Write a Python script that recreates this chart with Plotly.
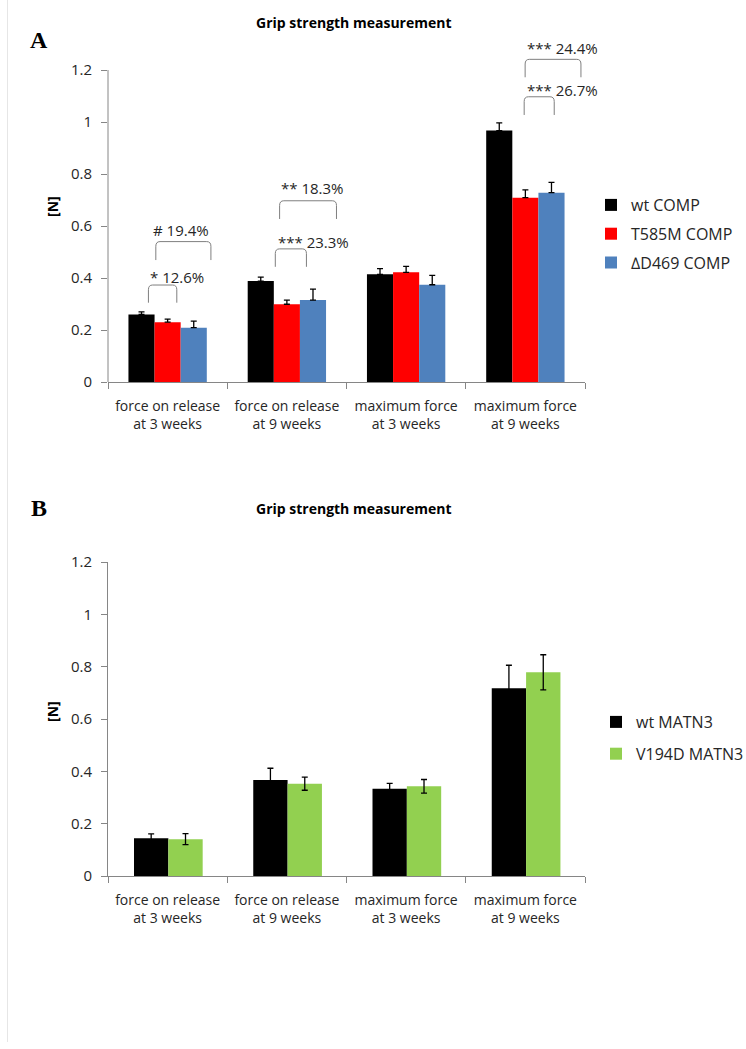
import plotly.graph_objects as go
import numpy as np

# ---------------- data ----------------
categories = ["force on release<br>at 3 weeks", "force on release<br>at 9 weeks",
              "maximum force<br>at 3 weeks", "maximum force<br>at 9 weeks"]

a_names = ["wt COMP", "T585M COMP", "\u2206D469 COMP"]
a_wt = [0.260, 0.388, 0.414, 0.967]
a_wt_err = [0.010, 0.015, 0.022, 0.030]
a_t585m = [0.230, 0.299, 0.422, 0.709]
a_t585m_err = [0.012, 0.016, 0.023, 0.030]
a_d469 = [0.209, 0.315, 0.374, 0.728]
a_d469_err = [0.025, 0.042, 0.036, 0.040]

b_names = ["wt MATN3", "V194D MATN3"]
b_wt = [0.144, 0.367, 0.334, 0.718]
b_wt_err = [0.017, 0.045, 0.020, 0.088]
b_v194d = [0.141, 0.353, 0.343, 0.779]
b_v194d_err = [0.021, 0.025, 0.026, 0.067]

y_ticks = [0, 0.2, 0.4, 0.6, 0.8, 1, 1.2]
y_tick_labels = ["0", "0.2", "0.4", "0.6", "0.8", "1", "1.2"]

# significance brackets (panel A): category index, left/right offset, foot, top, label, label offset, label y
brackets = [
    (0, -0.161, 0.077, 0.305, 0.373, "* 12.6%", 0.08, 0.405),
    (0, -0.099, 0.363, 0.469, 0.540, "# 19.4%", 0.113, 0.585),
    (1, -0.097, 0.164, 0.443, 0.512, "*** 23.3%", 0.22, 0.540),
    (1, -0.061, 0.416, 0.627, 0.697, "** 18.3%", 0.215, 0.745),
    (3, -0.010, 0.242, 1.027, 1.097, "*** 26.7%", 0.31, 1.123),
    (3, -0.002, 0.466, 1.172, 1.241, "*** 24.4%", 0.315, 1.283),
]

# ---------------- styling ----------------
W, H = 746, 1049
FONT = "Open Sans"
TXT = "#262626"
AX = "#868686"
BLACK, RED, BLUE, GREEN = "#000000", "#FF0000", "#4F81BD", "#92D050"

x_idx = np.arange(len(categories))
bounds = np.arange(len(categories) + 1) - 0.5


def px_x(p):
    return p / W


def px_y(p):
    return 1 - p / H


fig = go.Figure()

# Panel A
for name, vals, errs, col in [(a_names[0], a_wt, a_wt_err, BLACK),
                              (a_names[1], a_t585m, a_t585m_err, RED),
                              (a_names[2], a_d469, a_d469_err, BLUE)]:
    fig.add_trace(go.Bar(
        x=x_idx, y=vals, name=name, marker=dict(color=col, line=dict(width=0)),
        error_y=dict(type="data", array=errs, arrayminus=[0] * len(errs), symmetric=False,
                     color="black", thickness=1.3, width=3),
        xaxis="x", yaxis="y", legend="legend", legendgroup=name,
    ))

# Panel B
bw = 0.288
for i, (name, vals, errs, col) in enumerate([(b_names[0], b_wt, b_wt_err, BLACK),
                                             (b_names[1], b_v194d, b_v194d_err, GREEN)]):
    fig.add_trace(go.Bar(
        x=x_idx, y=vals, name=name, marker=dict(color=col, line=dict(width=0)),
        width=bw, offset=(i - 1) * bw + 0.006,
        error_y=dict(type="data", array=errs, color="black", thickness=1.3, width=3),
        xaxis="x2", yaxis="y2", legend="legend2", legendgroup=name,
    ))

xdom = [px_x(108), px_x(585)]
common_x = dict(
    range=[-0.5, len(categories) - 0.5], tickmode="array", tickvals=x_idx, ticktext=categories,
    ticks="", showline=True, linecolor=AX, linewidth=1, showgrid=False, zeroline=False,
    tickfont=dict(family=FONT, size=14, color=TXT), ticklabelstandoff=11,
    minor=dict(tickmode="array", tickvals=bounds, ticks="outside", ticklen=6, tickcolor=AX, tickwidth=1,
               showgrid=False),
    domain=xdom, fixedrange=True, automargin=False,
)
common_y = dict(
    tickmode="array", tickvals=y_ticks, ticktext=y_tick_labels, ticks="outside", ticklen=6,
    tickcolor=AX, tickwidth=1, showgrid=False, zeroline=False, ticklabelstandoff=6,
    tickfont=dict(family=FONT, size=15, color=TXT), fixedrange=True, automargin=False,
)

shapes = []
annotations = []

# y-axis line for panel A (only up to 1.2)
shapes.append(dict(type="line", xref="x domain", yref="y", x0=0, x1=0, y0=0, y1=max(y_ticks),
                   line=dict(color=AX, width=1)))

# brackets
rx, ry = 0.035, 0.018
for cat, l, r, yb, yt, label, tx, ty in brackets:
    x0, x1 = x_idx[cat] + l, x_idx[cat] + r
    path = (f"M {x0},{yb} L {x0},{yt - ry} Q {x0},{yt} {x0 + rx},{yt} "
            f"L {x1 - rx},{yt} Q {x1},{yt} {x1},{yt - ry} L {x1},{yb}")
    shapes.append(dict(type="path", xref="x", yref="y", path=path, line=dict(color="#7f7f7f", width=1)))
    annotations.append(dict(x=x_idx[cat] + tx, y=ty, xref="x", yref="y", text=label, showarrow=False,
                            font=dict(family=FONT, size=15, color=TXT), xanchor="center", yanchor="middle"))

# page border line at left
shapes.append(dict(type="line", xref="paper", yref="paper", x0=px_x(7.5), x1=px_x(7.5), y0=px_y(1042), y1=1,
                   line=dict(color="#e6e6e6", width=1)))

# titles, panel letters, axis titles
for ytitle, letter, yletter, yN in [(23, "A", 40, 207), (508, "B", 508, 712)]:
    annotations.append(dict(x=px_x(353.5), y=px_y(ytitle), xref="paper", yref="paper",
                            text="<b>Grip strength measurement</b>", showarrow=False,
                            font=dict(family=FONT, size=14, color="#000"), xanchor="center", yanchor="middle"))
    annotations.append(dict(x=px_x(39), y=px_y(yletter), xref="paper", yref="paper",
                            text=f"<b>{letter}</b>", showarrow=False,
                            font=dict(family="Liberation Serif", size=24, color="#000"),
                            xanchor="center", yanchor="middle"))
    annotations.append(dict(x=px_x(52), y=px_y(yN), xref="paper", yref="paper", text="<b>[N]</b>",
                            textangle=-90, showarrow=False, font=dict(family=FONT, size=14, color="#000"),
                            xanchor="center", yanchor="middle"))

fig.update_layout(
    width=W, height=H, margin=dict(l=0, r=0, t=0, b=0, autoexpand=False),
    paper_bgcolor="white", plot_bgcolor="white",
    barmode="group", bargap=0.343, bargroupgap=0,
    xaxis=dict(**common_x, anchor="y"),
    yaxis=dict(**common_y, range=[0, 1.32], showline=False, domain=[px_y(382), px_y(382 - 1.32 * 260)],
               anchor="x"),
    xaxis2=dict(**common_x, anchor="y2"),
    yaxis2=dict(**common_y, range=[0, 1.2], showline=True, linecolor=AX, linewidth=1,
                domain=[px_y(876), px_y(876 - 1.2 * 261.5)], anchor="x2"),
    legend=dict(x=px_x(591), y=px_y(188), xanchor="left", yanchor="top", tracegroupgap=5,
                font=dict(family=FONT, size=16, color=TXT), bgcolor="rgba(0,0,0,0)"),
    legend2=dict(x=px_x(596), y=px_y(705), xanchor="left", yanchor="top", tracegroupgap=8,
                 font=dict(family=FONT, size=16, color=TXT), bgcolor="rgba(0,0,0,0)"),
    shapes=shapes, annotations=annotations, showlegend=True,
)

fig.write_html("out.html", config={"displayModeBar": False},
               post_script="document.body.style.margin='0';document.body.style.padding='0';")
